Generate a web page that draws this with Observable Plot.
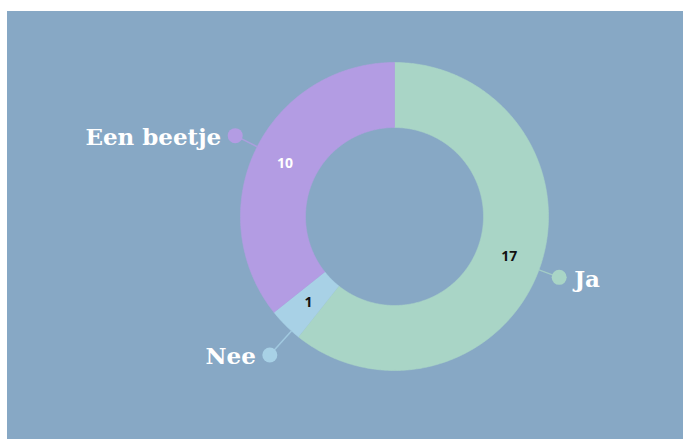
<!DOCTYPE html>
<html><head><meta charset="utf-8">
<script src="https://cdn.jsdelivr.net/npm/d3@7"></script>
<script src="https://cdn.jsdelivr.net/npm/@observablehq/plot@0.6"></script>
<style>
html,body{margin:0;padding:0;background:#ffffff;}
#chart{position:absolute;left:7px;top:11px;}
</style></head><body><div id="chart"></div>
<script>
// Data
const categories = ["Ja", "Nee", "Een beetje"];
const values = [17, 1, 10];

// Styles / layout (kept separate from data)
const colors = ["#a9d5c6", "#a8d1e6", "#b39ce3"];
const valueTextColors = ["#111111", "#111111", "#ffffff"];
const labelRadius = [1.14, 1.21, 1.16];
const labelAngleShift = [1, -3, 1.2]; // degrees

const W = 676, H = 428, cx = 387, cy = 205, R = 154;
const innerR = 89 / R;

const pie = d3.pie().sort(null).value(d => d)(values);
const slices = pie.map((p, i) => ({
  cat: categories[i], value: values[i], a0: p.startAngle, a1: p.endAngle,
  mid: (p.startAngle + p.endAngle) / 2, i
}));

function poly(s) {
  const pts = [];
  const n = Math.max(4, Math.ceil((s.a1 - s.a0) / 0.01));
  for (let k = 0; k <= n; k++) {
    const a = s.a0 + (s.a1 - s.a0) * k / n;
    pts.push({x: Math.sin(a), y: Math.cos(a)});
  }
  for (let k = n; k >= 0; k--) {
    const a = s.a0 + (s.a1 - s.a0) * k / n;
    pts.push({x: innerR * Math.sin(a), y: innerR * Math.cos(a)});
  }
  return pts;
}

const mids = slices.map(s => {
  const la = s.mid + labelAngleShift[s.i] * Math.PI / 180;
  return {
    ...s,
    vx: (1 + innerR) / 2 * Math.sin(s.mid), vy: (1 + innerR) / 2 * Math.cos(s.mid),
    ex: Math.sin(la), ey: Math.cos(la),
    lx: labelRadius[s.i] * Math.sin(la), ly: labelRadius[s.i] * Math.cos(la),
    right: Math.sin(s.mid) > 0
  };
});

const chart = Plot.plot({
  width: W, height: H,
  margin: 0,
  x: {domain: [-cx / R, (W - cx) / R], axis: null},
  y: {domain: [-(H - cy) / R, cy / R], axis: null},
  style: {background: "#87a8c5", overflow: "visible"},
  marks: [
    ...slices.map(s => Plot.line(poly(s), {x: "x", y: "y", fill: colors[s.i], stroke: colors[s.i], strokeWidth: 0.6, curve: "linear"})),
    Plot.link(mids, {x1: "ex", y1: "ey", x2: "lx", y2: "ly", stroke: d => colors[d.i], strokeWidth: 1.5, strokeOpacity: 0.8}),
    Plot.dot(mids, {x: "lx", y: "ly", r: 7.5, fill: d => colors[d.i], stroke: null}),
    Plot.text(mids, {x: "vx", y: "vy", text: d => String(d.value), fill: d => valueTextColors[d.i],
      fontSize: 14, fontWeight: "bold", fontFamily: "Open Sans, sans-serif"}),
    Plot.text(mids.filter(d => d.right), {x: "lx", y: "ly", text: "cat", textAnchor: "start", dx: 15, dy: 2,
      fill: "white", fontSize: 23, fontWeight: "bold", fontFamily: "DejaVu Serif, serif"}),
    Plot.text(mids.filter(d => !d.right), {x: "lx", y: "ly", text: "cat", textAnchor: "end", dx: -14, dy: 2,
      fill: "white", fontSize: 23, fontWeight: "bold", fontFamily: "DejaVu Serif, serif"})
  ]
});
document.getElementById("chart").appendChild(chart);
</script></body></html>
